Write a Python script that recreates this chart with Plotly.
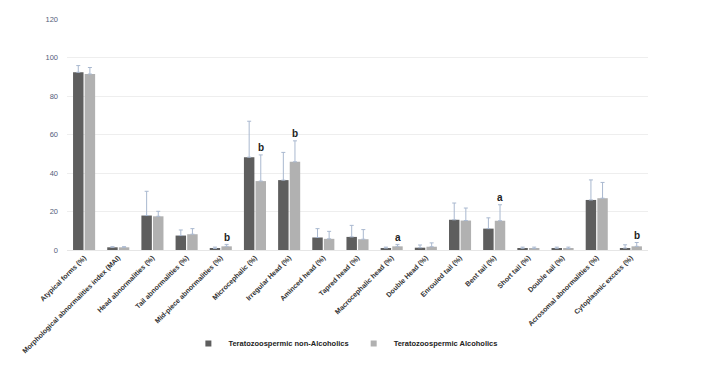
import plotly.graph_objects as go

categories = [
    "Atypical forms (%)", "Morphological abnormalities index (MAI)", "Head abnormalities (%)",
    "Tail abnormalities (%)", "Mid-piece abnormalities (%)", "Microcephalic (%)",
    "Irregular Head (%)", "Aminced head (%)", "Tapred head (%)", "Macrocephalic head (%)",
    "Double Head (%)", "Enrouled tail (%)", "Bent tail (%)", "Short tail (%)",
    "Double tail (%)", "Acrosomal abnormalities (%)", "Cytoplasmic excess (%)",
]
non_alc = [92.3, 1.4, 17.9, 7.5, 0.8, 48.2, 36.3, 6.5, 6.8, 1.0, 1.2, 15.7, 11.1, 0.9, 0.9, 26.0, 1.0]
non_alc_err = [3.5, 0.3, 12.6, 2.9, 0.7, 18.7, 14.4, 4.6, 6.0, 0.5, 1.4, 8.7, 5.6, 0.6, 0.6, 10.4, 1.7]
alc = [91.4, 1.4, 17.5, 8.2, 1.9, 35.8, 45.8, 5.8, 5.6, 1.9, 1.7, 15.3, 15.2, 0.8, 0.8, 26.9, 1.9]
alc_err = [3.4, 0.3, 2.6, 2.9, 1.0, 13.6, 10.9, 3.9, 5.0, 1.0, 2.0, 6.5, 8.3, 0.7, 0.7, 8.2, 2.0]
sig_letters = ["", "", "", "", "b", "b", "b", "", "", "a", "", "", "a", "", "", "", "b"]
series_names = ["Teratozoospermic non-Alcoholics", "Teratozoospermic Alcoholics"]

err_color = "#a9b8cf"
colors = ["#5e5e5e", "#b1b1b1"]

fig = go.Figure()
for name, vals, errs, col in zip(series_names, [non_alc, alc], [non_alc_err, alc_err], colors):
    fig.add_trace(go.Bar(
        name=name, x=categories, y=vals, showlegend=False,
        marker=dict(color=col, line=dict(width=0)),
        error_y=dict(type="data", array=errs, arrayminus=[0]*len(errs), symmetric=False,
                     color=err_color, thickness=1, width=2),
    ))
for name, col in zip(series_names, colors):
    fig.add_trace(go.Scatter(
        name="<b>" + name + "</b>", x=[None], y=[None], mode="markers",
        marker=dict(symbol="square", size=6, color=col), showlegend=True,
    ))

for c, v, e, s in zip(categories, alc, alc_err, sig_letters):
    if s:
        fig.add_annotation(x=c, y=v + e, text="<b>" + s + "</b>", showarrow=False,
                           xshift=6, yshift=7, font=dict(size=10, color="#222222", family="Liberation Sans"))

fig.update_layout(
    width=714, height=377,
    margin=dict(l=59, r=74, t=7, b=135),
    paper_bgcolor="white", plot_bgcolor="white",
    barmode="group", bargap=0.32, bargroupgap=0.1,
    font=dict(family="Liberation Sans", color="#333333"),
    showlegend=True,
    legend=dict(orientation="h", x=0.48, xanchor="center", y=-0.405, yanchor="middle",
                font=dict(size=7.5, color="#222222", family="Liberation Sans"),
                itemwidth=30, tracegroupgap=0),
    xaxis=dict(tickangle=-45, tickfont=dict(size=7, color="#333333", family="Liberation Sans"),
               showgrid=False, showline=True, linecolor="#e6e6e6", ticks=""),
    yaxis=dict(range=[0, 120], dtick=20, showgrid=True, gridcolor="#eeeeee", zeroline=False,
               tickfont=dict(size=7.5, color="#55607a"), ticks="", ticklabelstandoff=8),
)
fig.update_xaxes(tickprefix="<b>", ticksuffix="</b>")
fig.write_html("out.html")
